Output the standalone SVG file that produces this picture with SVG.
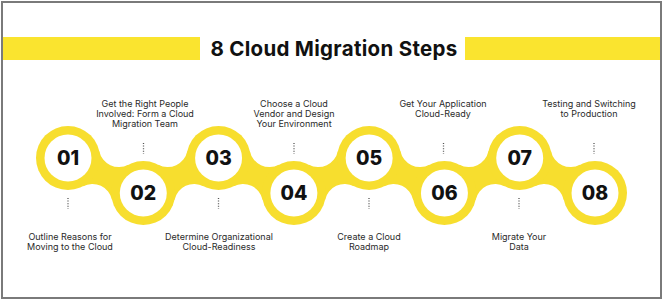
<svg xmlns="http://www.w3.org/2000/svg" xmlns:xlink="http://www.w3.org/1999/xlink" width="664" height="305" viewBox="0 0 664 305">
<style>
.bar{fill:#FAE42F}
.ring{fill:#F7DE2E}
.inner{fill:#FFFFFF}
.num{font-family:Inter,"Noto Sans",sans-serif;font-weight:800;font-size:19.5px;fill:#111;text-anchor:middle}
.lbl{font-family:Inter,"Noto Sans",sans-serif;font-size:9px;fill:#2a2a2a;text-anchor:middle}
.title{font-family:Inter,"Noto Sans",sans-serif;font-weight:700;font-size:20.5px;letter-spacing:0.3px;fill:#111;text-anchor:middle}
.dots{stroke:#555;stroke-width:1.3;stroke-dasharray:1 1.6;fill:none}
</style>
<defs>
<path id="bridge" class="ring" d="M0 0 L25.54 -19.27 A20 20 0 0 0 57.48 -19.27 L83.02 0 L57.48 19.27 A20 20 0 0 0 25.54 19.27 Z"/>
</defs>
<rect x="0" y="0" width="664" height="305" fill="#fff"/>
<rect x="2" y="2" width="659" height="296" fill="none" stroke="#7a7a7a" stroke-width="2"/>
<g id="title">
<rect class="bar" x="3" y="37" width="197" height="23"/>
<rect class="bar" x="465" y="37" width="195" height="23"/>
<text class="title" x="334" y="56">8 Cloud Migration Steps</text>
</g>
<g id="connectors">
<use xlink:href="#bridge" transform="translate(68,158) rotate(24.93)"/>
<use xlink:href="#bridge" transform="translate(143.29,193) rotate(-24.93)"/>
<use xlink:href="#bridge" transform="translate(218.57,158) rotate(24.93)"/>
<use xlink:href="#bridge" transform="translate(293.86,193) rotate(-24.93)"/>
<use xlink:href="#bridge" transform="translate(369.14,158) rotate(24.93)"/>
<use xlink:href="#bridge" transform="translate(444.43,193) rotate(-24.93)"/>
<use xlink:href="#bridge" transform="translate(519.71,158) rotate(24.93)"/>
</g>
<g id="step01">
<circle class="ring" cx="68" cy="158" r="32"/><circle class="inner" cx="68" cy="158" r="23.5"/>
<text class="num" x="68" y="165">01</text>
<line class="dots" x1="68" y1="198" x2="68" y2="209"/>
<text class="lbl" x="70" y="240">Outline Reasons for</text>
<text class="lbl" x="70" y="250">Moving to the Cloud</text>
</g>
<g id="step02">
<circle class="ring" cx="143.29" cy="193" r="32"/><circle class="inner" cx="143.29" cy="193" r="23.5"/>
<text class="num" x="143.29" y="200">02</text>
<line class="dots" x1="143.5" y1="143" x2="143.5" y2="154"/>
<text class="lbl" x="145" y="107">Get the Right People</text>
<text class="lbl" x="145" y="117">Involved: Form a Cloud</text>
<text class="lbl" x="145" y="127">Migration Team</text>
</g>
<g id="step03">
<circle class="ring" cx="218.57" cy="158" r="32"/><circle class="inner" cx="218.57" cy="158" r="23.5"/>
<text class="num" x="218.57" y="165">03</text>
<line class="dots" x1="218.5" y1="198" x2="218.5" y2="209"/>
<text class="lbl" x="219" y="240">Determine Organizational</text>
<text class="lbl" x="219" y="250">Cloud-Readiness</text>
</g>
<g id="step04">
<circle class="ring" cx="293.86" cy="193" r="32"/><circle class="inner" cx="293.86" cy="193" r="23.5"/>
<text class="num" x="293.86" y="200">04</text>
<line class="dots" x1="294" y1="143" x2="294" y2="154"/>
<text class="lbl" x="294" y="107">Choose a Cloud</text>
<text class="lbl" x="294" y="117">Vendor and Design</text>
<text class="lbl" x="294" y="127">Your Environment</text>
</g>
<g id="step05">
<circle class="ring" cx="369.14" cy="158" r="32"/><circle class="inner" cx="369.14" cy="158" r="23.5"/>
<text class="num" x="369.14" y="165">05</text>
<line class="dots" x1="369" y1="198" x2="369" y2="209"/>
<text class="lbl" x="369" y="240">Create a Cloud</text>
<text class="lbl" x="369" y="250">Roadmap</text>
</g>
<g id="step06">
<circle class="ring" cx="444.43" cy="193" r="32"/><circle class="inner" cx="444.43" cy="193" r="23.5"/>
<text class="num" x="444.43" y="200">06</text>
<line class="dots" x1="443.5" y1="143" x2="443.5" y2="154"/>
<text class="lbl" x="443" y="107">Get Your Application</text>
<text class="lbl" x="443" y="117">Cloud-Ready</text>
</g>
<g id="step07">
<circle class="ring" cx="519.71" cy="158" r="32"/><circle class="inner" cx="519.71" cy="158" r="23.5"/>
<text class="num" x="519.71" y="165">07</text>
<line class="dots" x1="519" y1="198" x2="519" y2="209"/>
<text class="lbl" x="519" y="240">Migrate Your</text>
<text class="lbl" x="519" y="250">Data</text>
</g>
<g id="step08">
<circle class="ring" cx="595" cy="193" r="32"/><circle class="inner" cx="595" cy="193" r="23.5"/>
<text class="num" x="595" y="200">08</text>
<line class="dots" x1="594" y1="143" x2="594" y2="154"/>
<text class="lbl" x="589" y="107">Testing and Switching</text>
<text class="lbl" x="589" y="117">to Production</text>
</g>
</svg>
